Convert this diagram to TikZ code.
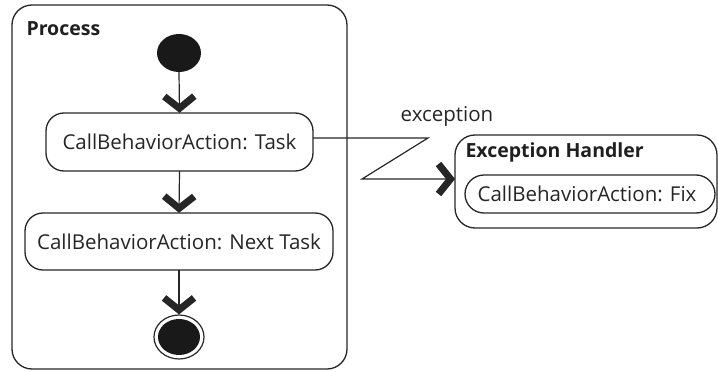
\documentclass[tikz,border=0pt]{standalone}
\usepackage{fontspec}
\setmainfont{Open Sans}
\usetikzlibrary{arrows.meta,shapes.geometric}
\tikzset{
  edge/.style={draw=black!85, line width=1.2pt},
  flow/.style={edge, -{Straight Barb[length=12pt, width=30pt, line width=7pt]}},
  label/.style={font=\fontsize{20.5}{24}\selectfont, text=black!85},
  frame/.style={draw=black!85, line width=1.3pt, rounded corners=20pt},
  title/.style={font=\bfseries\fontsize{19.5}{23}\selectfont, text=black!88, anchor=west}
}
\begin{document}
\begin{tikzpicture}[x=1pt, y=-1pt]
\useasboundingbox (0,0) rectangle (718,372);
% activity frame
\draw[frame] (12,5) rectangle (347,369);
\node[title] (ptitle) at (23,29) {Process};
% initial node
\node[ellipse, fill=black!90, minimum width=44pt, minimum height=38pt, inner sep=0pt] (start) at (179,53) {};
% actions
\draw[frame, rounded corners=18pt] (46,113) rectangle (313,171);
\node[label, minimum width=267pt, minimum height=58pt] (task) at (179.5,142) {CallBehaviorAction: Task};
\draw[frame, rounded corners=18pt] (25,213) rectangle (333,270);
\node[label, minimum width=308pt, minimum height=57pt] (next) at (179,241.5) {CallBehaviorAction: Next Task};
% final node
\node[ellipse, draw=black!85, line width=1.2pt, minimum width=50pt, minimum height=44pt, inner sep=0pt] (final) at (179,337) {};
\node[ellipse, fill=black!90, minimum width=42pt, minimum height=36pt, inner sep=0pt] (finalin) at (179,337) {};
% control flows
\draw[flow] (start.south) -- (task.north);
\draw[flow] (task.south) -- (next.north);
\draw[flow] (next.south) -- (final.north);
% exception handler
\draw[frame] (455,135) rectangle (717,228);
\node[title] (htitle) at (462,152) {Exception Handler};
\draw[frame, rounded corners=19pt] (465,175) rectangle (715,213);
\node[label, minimum width=250pt, minimum height=38pt] (fix) at (587,194) {CallBehaviorAction: Fix};
\coordinate (hin) at (455,179);
% exception flow (lightning)
\draw[flow] (task.east |- 0,138) -- (428,138) -- (362,179) -- (hin);
\node[label] (exc) at (447,116) {exception};
\end{tikzpicture}
\end{document}
